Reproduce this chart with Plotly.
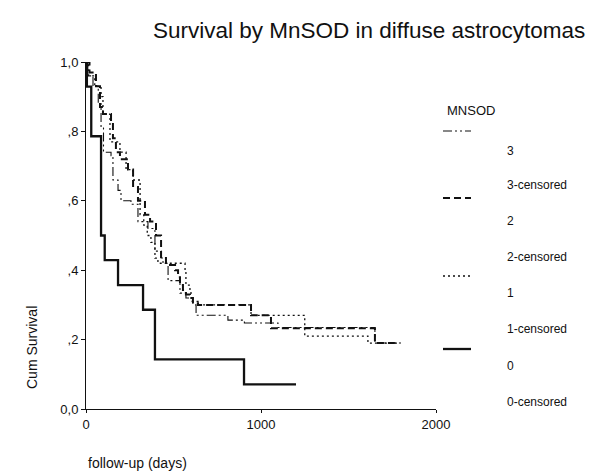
import plotly.graph_objects as go

# ---- data ----
groups = ["3", "2", "1", "0"]

days_3 = [0, 10, 40, 70, 86, 100, 143, 154, 183, 200, 257, 297, 354, 394, 429, 440, 469, 537, 571, 611, 629, 811, 905, 1097, 1651, 1800]
surv_3 = [1.0, 0.96, 0.93, 0.88, 0.81, 0.74, 0.73, 0.66, 0.63, 0.60, 0.59, 0.54, 0.52, 0.455, 0.435, 0.42, 0.37, 0.334, 0.32, 0.30, 0.27, 0.256, 0.248, 0.235, 0.19, 0.19]

days_2 = [0, 20, 57, 80, 97, 143, 154, 171, 194, 240, 269, 297, 337, 366, 400, 429, 457, 509, 526, 537, 554, 571, 594, 611, 640, 943, 1057, 1651, 1765]
surv_2 = [1.0, 0.97, 0.93, 0.87, 0.85, 0.83, 0.78, 0.74, 0.72, 0.69, 0.64, 0.60, 0.56, 0.54, 0.50, 0.435, 0.415, 0.40, 0.38, 0.357, 0.343, 0.33, 0.32, 0.305, 0.30, 0.27, 0.233, 0.19, 0.19]

days_1 = [0, 15, 50, 86, 97, 137, 194, 229, 269, 309, 330, 350, 371, 394, 411, 566, 571, 594, 600, 640, 943, 1250, 1611, 1790]
surv_1 = [1.0, 0.96, 0.93, 0.90, 0.85, 0.77, 0.74, 0.69, 0.66, 0.56, 0.53, 0.50, 0.48, 0.435, 0.42, 0.40, 0.357, 0.34, 0.31, 0.30, 0.27, 0.21, 0.19, 0.19]

days_0 = [0, 5, 30, 86, 107, 183, 326, 394, 903, 1200]
surv_0 = [1.0, 0.929, 0.786, 0.5, 0.429, 0.357, 0.286, 0.143, 0.071, 0.071]

y_tick_vals = [0, 0.2, 0.4, 0.6, 0.8, 1.0]
y_tick_text = ["0,0", ",2", ",4", ",6", ",8", "1,0"]
x_tick_vals = [0, 1000, 2000]
x_tick_text = ["0", "1000", "2000"]

legend_title = "MNSOD"
legend_labels = ["3", "3-censored", "2", "2-censored", "1", "1-censored", "0", "0-censored"]

# ---- layout geometry (pixels) ----
W, H = 605, 472
L, R, T, B = 78, 428, 54, 401

def px(x):
    return (x - L) / (R - L)

def py(y):
    return (B - y) / (B - T)

INK = "#111111"
FONT = "Liberation Sans, Arial, sans-serif"

styles = {
    "3": dict(width=1.1, dash="9px,3px,2px,3px,2px,3px"),
    "2": dict(width=2.0, dash="7px,4px"),
    "1": dict(width=1.3, dash="2px,3px"),
    "0": dict(width=2.3, dash="solid"),
}
series = {"3": (days_3, surv_3), "2": (days_2, surv_2), "1": (days_1, surv_1), "0": (days_0, surv_0)}

fig = go.Figure()
for g in groups:
    d, s = series[g]
    fig.add_trace(go.Scatter(
        x=d, y=s, mode="lines", line_shape="hv", name=g,
        line=dict(color=INK, width=styles[g]["width"], dash=styles[g]["dash"]),
        showlegend=False, hoverinfo="skip",
    ))

fig.update_layout(
    width=W, height=H,
    margin=dict(l=L, r=W - R, t=T, b=H - B, pad=0),
    paper_bgcolor="white", plot_bgcolor="white",
    font=dict(family=FONT, color=INK, size=13),
    xaxis=dict(range=[0, 2000], tickvals=x_tick_vals, ticktext=x_tick_text,
               showgrid=False, zeroline=False, showline=True, linecolor=INK, linewidth=1,
               ticks="outside", ticklen=3, tickcolor=INK, tickfont=dict(size=13)),
    yaxis=dict(range=[0, 1.0], tickvals=y_tick_vals, ticktext=y_tick_text,
               showgrid=False, zeroline=False, showline=True, linecolor=INK, linewidth=1,
               ticks="outside", ticklen=4, tickcolor=INK, tickfont=dict(size=13)),
)

ann = []
# title
ann.append(dict(text="Survival by MnSOD in diffuse astrocytomas", x=px(361), y=py(23),
                xref="paper", yref="paper", showarrow=False, xanchor="center", yanchor="middle",
                font=dict(size=22.5, family=FONT, color=INK)))
# axis titles
ann.append(dict(text="Cum Survival", x=px(24), y=py(340), xref="paper", yref="paper",
                showarrow=False, textangle=-90, xanchor="center", yanchor="middle",
                font=dict(size=14, family=FONT, color=INK)))
ann.append(dict(text="follow-up (days)", x=px(78), y=py(455), xref="paper", yref="paper",
                showarrow=False, xanchor="left", yanchor="middle",
                font=dict(size=14, family=FONT, color=INK)))
# legend
ann.append(dict(text=legend_title, x=px(437), y=py(102), xref="paper", yref="paper",
                showarrow=False, xanchor="left", yanchor="middle",
                font=dict(size=13, family=FONT, color=INK)))
label_y = [143, 177, 213, 249, 285, 321, 358, 394]
for lab, yy in zip(legend_labels, label_y):
    ann.append(dict(text=lab, x=px(497), y=py(yy), xref="paper", yref="paper",
                    showarrow=False, xanchor="left", yanchor="middle",
                    font=dict(size=12, family=FONT, color=INK)))
fig.update_layout(annotations=ann)

sample_y = {"3": 123, "2": 190, "1": 268, "0": 341}
for g in groups:
    fig.add_shape(type="line", xref="paper", yref="paper",
                  x0=px(435), x1=px(463), y0=py(sample_y[g]), y1=py(sample_y[g]),
                  line=dict(color=INK, width=styles[g]["width"], dash=styles[g]["dash"]))

fig.write_html("out.html")
